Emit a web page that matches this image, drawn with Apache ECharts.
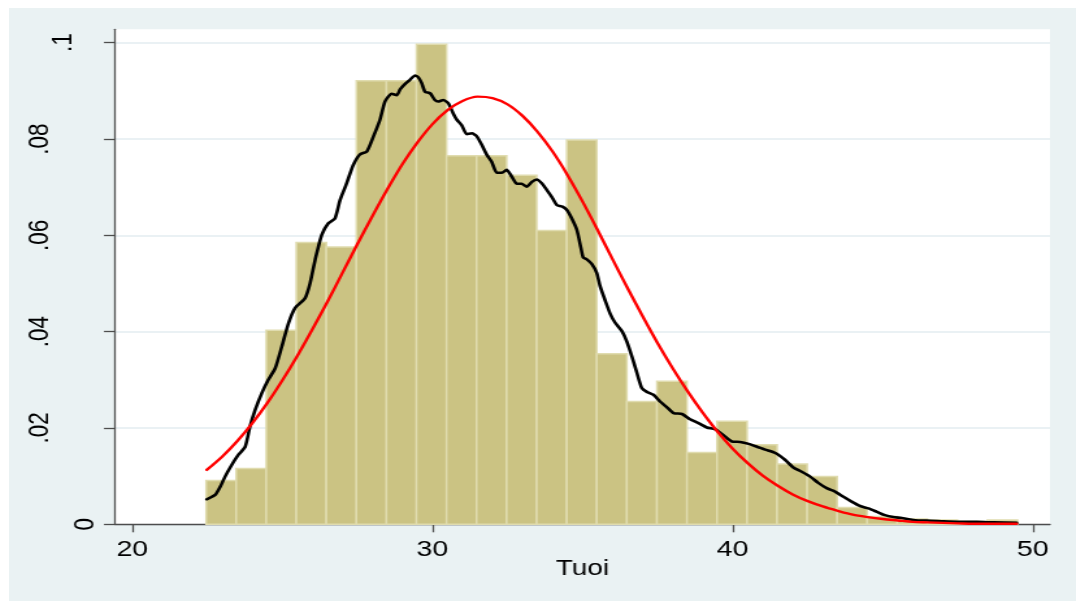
<!DOCTYPE html>
<html>
<head>
<meta charset="utf-8">
<title>Tuoi</title>
<script src="https://cdn.jsdelivr.net/npm/echarts@6.0.0/dist/echarts.min.js"></script>
<style>
  html, body { margin: 0; padding: 0; background: #ffffff; width: 1076px; height: 601px; overflow: hidden; }
  /* The graph is laid out on a 5.5 x 4 style canvas and widened to fill the page */
  #chart { position: absolute; left: 9px; top: 8px; width: 821px; height: 593px;
           transform-origin: 0 0; transform: scaleX(1.29963); }
</style>
</head>
<body>
<div id="chart"></div>
<script>
// ---- Histogram of age (density scale), bins of ~1 year ----
const binStart = 22.46;
const binWidth = 1.001;
const binDensity = [
  0.0091, 0.0116, 0.0403, 0.0585, 0.0576, 0.0921, 0.0921, 0.0997, 0.0765,
  0.0765, 0.0725, 0.0610, 0.0798, 0.0354, 0.0255, 0.0297, 0.0149, 0.0214,
  0.0165, 0.0125, 0.0099, 0.0035, 0.0016, 0.0011, 0.0009, 0.0006, 0.0009
];

// ---- Kernel density estimate ----
const kdeAge = [
  22.48, 22.76, 22.93, 23.09, 23.31, 23.53, 23.76, 23.92, 24.09, 24.31, 24.53, 24.76,
  24.98, 25.20, 25.42, 25.75, 25.92, 26.09, 26.31, 26.53, 26.75, 26.92, 27.14, 27.36,
  27.58, 27.81, 28.03, 28.25, 28.42, 28.64, 28.81, 28.92, 29.08, 29.25, 29.42, 29.53,
  29.64, 29.75, 29.92, 30.08, 30.19, 30.36, 30.53, 30.69, 30.81, 30.97, 31.14, 31.31,
  31.47, 31.64, 31.81, 31.97, 32.14, 32.31, 32.47, 32.64, 32.81, 32.97, 33.14, 33.31,
  33.47, 33.64, 33.81, 33.97, 34.14, 34.31, 34.47, 34.64, 34.81, 34.94, 35.02, 35.14,
  35.31, 35.47, 35.58, 35.75, 35.92, 36.08, 36.31, 36.47, 36.64, 36.81, 36.97, 37.14,
  37.36, 37.58, 37.81, 38.03, 38.31, 38.58, 38.86, 39.14, 39.42, 39.69, 39.97, 40.25,
  40.53, 40.81, 41.08, 41.42, 41.74, 42.02, 42.30, 42.58, 42.85, 43.13, 43.41, 43.69,
  43.96, 44.24, 44.52, 44.80, 45.07, 45.35, 45.63, 45.91, 46.18, 46.46, 47.02, 47.57,
  48.13, 48.68, 49.46
];
const kdeDensity = [
  0.0052, 0.0061, 0.0078, 0.0099, 0.0123, 0.0144, 0.0161, 0.0203, 0.0237, 0.0272, 0.0300, 0.0324,
  0.0369, 0.0417, 0.0449, 0.0469, 0.0500, 0.0549, 0.0601, 0.0625, 0.0635, 0.0673, 0.0708, 0.0746,
  0.0768, 0.0774, 0.0805, 0.0840, 0.0878, 0.0894, 0.0891, 0.0903, 0.0914, 0.0923, 0.0932, 0.0928,
  0.0916, 0.0898, 0.0895, 0.0881, 0.0878, 0.0881, 0.0874, 0.0853, 0.0840, 0.0829, 0.0810, 0.0812,
  0.0806, 0.0788, 0.0767, 0.0753, 0.0730, 0.0730, 0.0736, 0.0722, 0.0707, 0.0707, 0.0701, 0.0711,
  0.0716, 0.0708, 0.0694, 0.0680, 0.0663, 0.0660, 0.0653, 0.0635, 0.0611, 0.0575, 0.0554, 0.0550,
  0.0540, 0.0522, 0.0495, 0.0465, 0.0437, 0.0419, 0.0401, 0.0380, 0.0349, 0.0314, 0.0283, 0.0275,
  0.0269, 0.0255, 0.0243, 0.0231, 0.0229, 0.0218, 0.0210, 0.0201, 0.0197, 0.0185, 0.0172, 0.0171,
  0.0167, 0.0161, 0.0155, 0.0148, 0.0134, 0.0118, 0.0109, 0.0099, 0.0086, 0.0075, 0.0068, 0.0057,
  0.0047, 0.0038, 0.0033, 0.0026, 0.0019, 0.0015, 0.0013, 0.0010, 0.0008, 0.0008, 0.0006, 0.0005,
  0.0005, 0.0004, 0.0003
];

// ---- Normal density overlay ----
const normAge = [
  22.48, 23.0, 23.5, 24.0, 24.5, 25.0, 25.5, 26.0, 26.5, 27.0, 27.5, 28.0,
  28.5, 29.0, 29.5, 30.0, 30.5, 31.0, 31.5, 32.0, 32.5, 33.0, 33.5, 34.0,
  34.5, 35.0, 35.5, 36.0, 36.5, 37.0, 37.5, 38.0, 38.5, 39.0, 39.5, 40.0,
  40.5, 41.0, 41.5, 42.0, 42.5, 43.0, 43.5, 44.0, 44.5, 45.0, 45.5, 46.0,
  46.5, 47.0, 47.5, 48.0, 48.5, 49.0, 49.46
];
const normDensity = [
  0.0113, 0.0141, 0.0173, 0.0210, 0.0252, 0.0299, 0.0350, 0.0405, 0.0462, 0.0522, 0.0582, 0.0640,
  0.0696, 0.0748, 0.0793, 0.0831, 0.0860, 0.0879, 0.0888, 0.0885, 0.0872, 0.0848, 0.0815, 0.0774,
  0.0725, 0.0670, 0.0611, 0.0550, 0.0490, 0.0432, 0.0376, 0.0324, 0.0276, 0.0232, 0.0192, 0.0157,
  0.0127, 0.0101, 0.0080, 0.0062, 0.0048, 0.0037, 0.0028, 0.0020, 0.0015, 0.0011, 0.0008, 0.0005,
  0.0004, 0.0003, 0.0002, 0.0001, 0.0001, 0.0001, 0.0001
];

// ---- Axis ticks ----
const xTicks = [20, 30, 40, 50];
const yTicks = [0, 0.02, 0.04, 0.06, 0.08, 0.1];
const yTickLabels = ['0', '.02', '.04', '.06', '.08', '.1'];
const xTitle = 'Tuoi';

const FONT = '"Liberation Sans", Arial, Helvetica, sans-serif';
const AXIS_COLOR = '#4d4d4d';

const histData = binDensity.map((h, i) => [binStart + i * binWidth, binStart + (i + 1) * binWidth, h]);
const kdeData = kdeAge.map((a, i) => [a, kdeDensity[i]]);
const normData = normAge.map((a, i) => [a, normDensity[i]]);

// Rotated y labels sit further from the axis the longer they are
function yLabel(v) {
  const i = yTicks.findIndex(t => Math.abs(t - v) < 1e-9);
  if (i < 0) return '';
  const txt = yTickLabels[i];
  return '{n' + Math.min(txt.length, 3) + '|' + txt + '}';
}

const chart = echarts.init(document.getElementById('chart'), null, { renderer: 'canvas' });
chart.setOption({
  animation: false,
  backgroundColor: '#EAF2F3',
  grid: {
    left: 81.56, right: 20, top: 21.3, bottom: 76.7,
    show: true, backgroundColor: '#ffffff', borderWidth: 0
  },
  xAxis: {
    type: 'value',
    min: 19.424, max: 50.57,
    name: xTitle,
    nameLocation: 'middle',
    nameGap: 45,
    nameMoveOverlap: false,
    nameTextStyle: { fontFamily: FONT, fontSize: 21.5, color: '#000', verticalAlign: 'middle' },
    axisLine: { show: true, onZero: false, lineStyle: { color: AXIS_COLOR, width: 1.3 } },
    axisTick: { show: true, length: 8, customValues: xTicks, lineStyle: { color: AXIS_COLOR, width: 1.3 } },
    axisLabel: {
      customValues: xTicks, fontFamily: FONT, fontSize: 22, color: '#000',
      margin: 26, verticalAlign: 'middle', formatter: v => String(v)
    },
    splitLine: { show: false }
  },
  yAxis: {
    type: 'value',
    min: 0, max: 0.10278,
    axisLine: { show: true, onZero: false, lineStyle: { color: AXIS_COLOR, width: 1.3 } },
    axisTick: { show: true, length: 8.5, customValues: yTicks, lineStyle: { color: AXIS_COLOR, width: 1.3 } },
    axisLabel: {
      customValues: yTicks, rotate: 90, margin: 23,
      align: 'center', verticalAlign: 'middle',
      fontFamily: FONT, fontSize: 22.5, color: '#000',
      formatter: yLabel,
      rich: {
        n1: { fontFamily: FONT, fontSize: 22.5, color: '#000', padding: [0, 0, 0, 0] },
        n2: { fontFamily: FONT, fontSize: 22.5, color: '#000', padding: [0, 0, 33, 0] },
        n3: { fontFamily: FONT, fontSize: 22.5, color: '#000', padding: [0, 0, 70, 0] }
      }
    },
    splitLine: { show: true, lineStyle: { color: '#E3ECF0', width: 1.5 } }
  },
  series: [
    {
      name: 'Density',
      type: 'custom',
      z: 1,
      encode: { x: [0, 1], y: 2 },
      data: histData,
      renderItem: (params, api) => {
        const h = api.value(2);
        if (!(h > 0)) return null;
        const p0 = api.coord([api.value(0), h]);
        const p1 = api.coord([api.value(1), 0]);
        return {
          type: 'rect',
          shape: { x: p0[0], y: p0[1], width: p1[0] - p0[0], height: p1[1] - p0[1] },
          style: { fill: '#CBC383', stroke: '#E0DCAF', lineWidth: 1.5 }
        };
      }
    },
    {
      name: 'Kernel density',
      type: 'line',
      z: 3,
      data: kdeData,
      showSymbol: false,
      smooth: 0.2,
      lineStyle: { color: '#000000', width: 2.6, join: 'round', cap: 'round' }
    },
    {
      name: 'Normal density',
      type: 'line',
      z: 4,
      data: normData,
      showSymbol: false,
      smooth: 0.3,
      lineStyle: { color: '#FF0000', width: 2.4, join: 'round', cap: 'round' }
    }
  ]
});
</script>
</body>
</html>
